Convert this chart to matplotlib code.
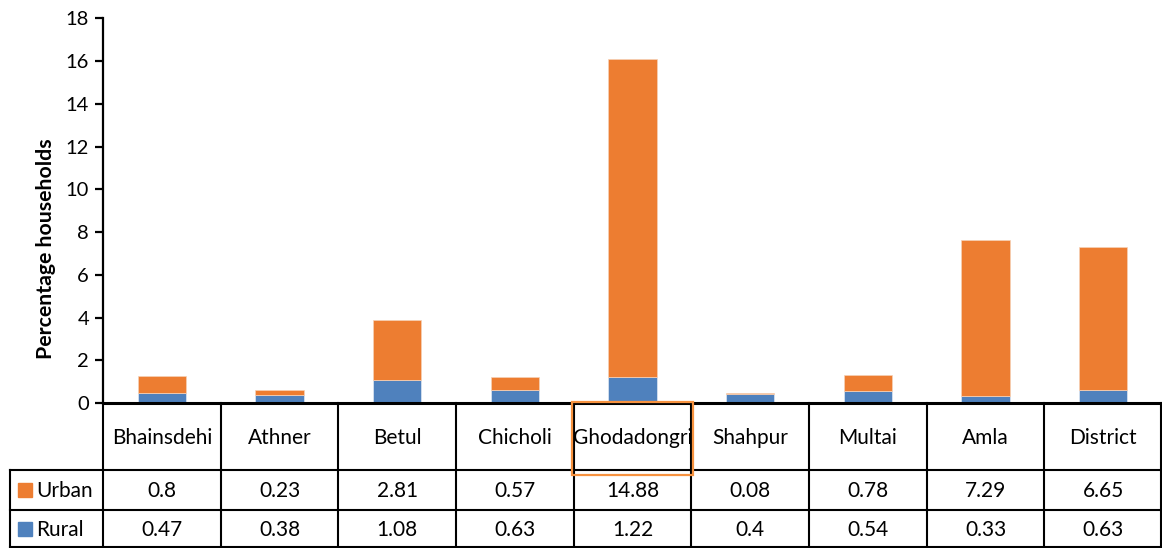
import numpy as np
import matplotlib
matplotlib.use('Agg')
import matplotlib.pyplot as plt
from matplotlib.patches import Rectangle

plt.rcParams['font.family'] = ['Lato', 'DejaVu Sans']

# dados
blocos = ['Bhainsdehi', 'Athner', 'Betul', 'Chicholi', 'Ghodadongri',
          'Shahpur', 'Multai', 'Amla', 'District']
urban = [0.8, 0.23, 2.81, 0.57, 14.88, 0.08, 0.78, 7.29, 6.65]
rural = [0.47, 0.38, 1.08, 0.63, 1.22, 0.4, 0.54, 0.33, 0.63]
urban_txt = ['0.8', '0.23', '2.81', '0.57', '14.88', '0.08', '0.78', '7.29', '6.65']
rural_txt = ['0.47', '0.38', '1.08', '0.63', '1.22', '0.4', '0.54', '0.33', '0.63']
destaque = 'Ghodadongri'

cor_urban = '#ED7D31'
cor_rural = '#4F81BD'

W, H = 1162, 548
fig = plt.figure(figsize=(W / 100, H / 100), dpi=100)

# grafico de barras
x0, y0, ytop = 103, 403, 18.3
ax = fig.add_axes([x0 / W, (H - y0) / H, (W - x0) / W, (y0 - ytop) / H])
n = len(blocos)
pos = np.arange(n) + 0.5
ax.bar(pos, rural, 0.41, color=cor_rural, edgecolor='#dfe8f3', linewidth=0.5)
ax.bar(pos, urban, 0.41, bottom=rural, color=cor_urban, edgecolor='#f6d2b8', linewidth=0.5)
ax.set_xlim(0, n)
ax.set_ylim(0, 18)
ax.set_yticks(range(0, 19, 2))
ax.set_xticks([])
for s in ['top', 'right', 'bottom']:
    ax.spines[s].set_visible(False)
ax.spines['left'].set_linewidth(1.6)
ax.tick_params(axis='y', direction='out', length=6, width=1.6, labelsize=14.5, pad=4)
ax.set_ylabel('Percentage households', fontsize=15.3, fontweight='bold')
ax.yaxis.set_label_coords(-0.044, 0.40)

# tabela
tx = fig.add_axes([0, 0, 1, 1])
tx.set_xlim(0, W)
tx.set_ylim(H, 0)
tx.axis('off')

colw = (W - x0) / n
xl = 10
y_head, y_urb, y_fim = 470, 510, 548

tx.plot([x0, W], [y0, y0], color='black', lw=2.2)
for y in [y_head, y_urb, y_fim - 1]:
    tx.plot([xl, W], [y, y], color='black', lw=1.5)
tx.plot([xl, xl], [y_head, y_fim], color='black', lw=1.5)
for i in range(n + 1):
    xi = min(x0 + i * colw, W - 1)
    tx.plot([xi, xi], [y0, y_fim], color='black', lw=1.5)

fs = 15
for i, b in enumerate(blocos):
    xc = x0 + (i + 0.5) * colw
    tx.text(xc, (y0 + y_head) / 2 + 1, b, ha='center', va='center', fontsize=fs)
    tx.text(xc, (y_head + y_urb) / 2 + 1, urban_txt[i], ha='center', va='center', fontsize=fs)
    tx.text(xc, (y_urb + y_fim) / 2 + 1, rural_txt[i], ha='center', va='center', fontsize=fs)
    if b == destaque:
        tx.add_patch(Rectangle((x0 + i * colw - 1.5, 402), colw + 3.5, 73,
                               fill=False, edgecolor='#F7923F', lw=1.6, zorder=5))

for nome, cor, ya, yb in [('Urban', cor_urban, y_head, y_urb), ('Rural', cor_rural, y_urb, y_fim)]:
    yc = (ya + yb) / 2
    tx.add_patch(Rectangle((18, yc - 7), 14, 14, color=cor))
    tx.text(36, yc + 1, nome, ha='left', va='center', fontsize=fs)

fig.savefig('out.png', dpi=100)
